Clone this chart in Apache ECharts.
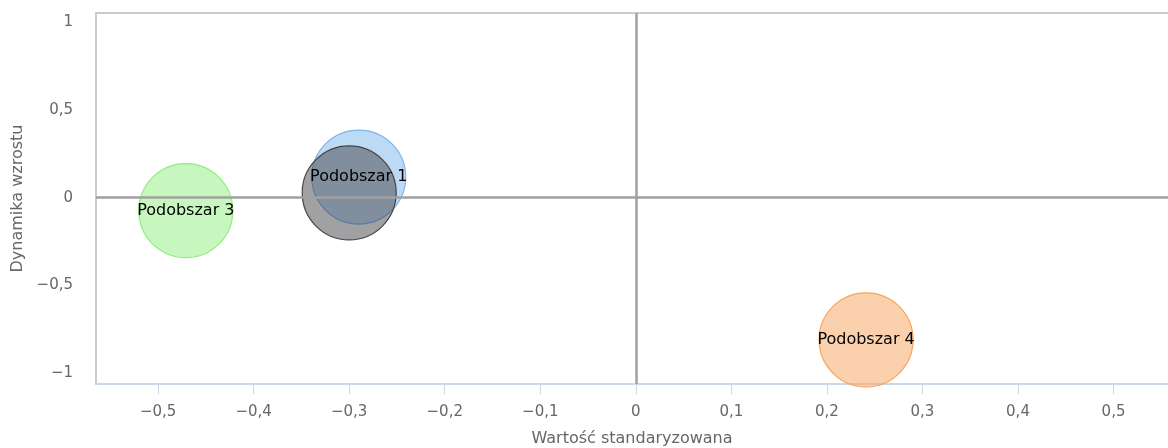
<!DOCTYPE html>
<html>
<head>
<meta charset="utf-8">
<script src="https://cdn.jsdelivr.net/npm/echarts@6/dist/echarts.min.js"></script>
<style>html,body{margin:0;padding:0;background:#fff}#c{width:1168px;height:448px}</style>
</head>
<body>
<div id="c"></div>
<script>
// ---- data ----
const bubbleNames = ['Podobszar 3', 'Podobszar 1', 'Podobszar 4', 'Obszar'];
const xValues = [-0.471, -0.290, 0.241, -0.300];
const yValues = [-0.074, 0.117, -0.809, 0.027];
const sizeValues = [1, 1, 1, 1];
const showLabel = [true, true, true, false];
const xTicks = [-0.5, -0.4, -0.3, -0.2, -0.1, 0, 0.1, 0.2, 0.3, 0.4, 0.5];
const yTicks = [-1, -0.5, 0, 0.5, 1];
const colors = ['#90ed7d', '#7cb5ec', '#f7a35c', '#434348'];

function fmt(v) {
  let s = String(Math.round(v * 100) / 100).replace('.', ',');
  return s.replace('-', '\u2212');
}
function hexA(hex, a) {
  const n = parseInt(hex.slice(1), 16);
  return 'rgba(' + (n >> 16 & 255) + ',' + (n >> 8 & 255) + ',' + (n & 255) + ',' + a + ')';
}

const font = 'DejaVu Sans';
const series = bubbleNames.map((name, i) => ({
  type: 'scatter',
  name: name,
  z: 3,
  symbolSize: 94 * sizeValues[i],
  data: [[xValues[i], yValues[i], sizeValues[i]]],
  itemStyle: { color: hexA(colors[i], 0.5), borderColor: colors[i], borderWidth: 1.2, opacity: 1 },
  label: { show: showLabel[i], position: 'inside', color: '#000', fontFamily: font, fontSize: 16, formatter: name },
  emphasis: { disabled: true }
}));
series.unshift({
  type: 'scatter', z: 1, data: [], silent: true,
  markLine: {
    silent: true, symbol: 'none', animation: false, label: { show: false },
    lineStyle: { color: '#a0a0a0', width: 2.5, type: 'solid' },
    data: [{ xAxis: 0 }, { yAxis: 0 }]
  }
});

const chart = echarts.init(document.getElementById('c'));
chart.setOption({
  animation: false,
  grid: { left: 96, right: 0, top: 13, bottom: 64, containLabel: false, outerBoundsMode: 'none' },
  xAxis: [{
    type: 'value', min: -0.565, max: 0.557,
    name: 'Wartość standaryzowana', nameLocation: 'middle', nameGap: 47,
    nameTextStyle: { color: '#666', fontFamily: font, fontSize: 16 },
    axisLine: { show: true, onZero: false, lineStyle: { color: '#ccd6eb', width: 2 } },
    axisTick: { show: true, length: 10, lineStyle: { color: '#ccd6eb', width: 1 }, customValues: xTicks },
    axisLabel: { color: '#666', fontFamily: font, fontSize: 15, margin: 21, customValues: xTicks, formatter: fmt },
    splitLine: { show: false }
  }, {
    type: 'value', position: 'top', min: -0.565, max: 0.557,
    axisLine: { show: true, onZero: false, lineStyle: { color: '#cccccc', width: 2 } },
    axisTick: { show: false }, axisLabel: { show: false }, splitLine: { show: false }
  }],
  yAxis: {
    type: 'value', min: -1.06, max: 1.05,
    name: 'Dynamika wzrostu', nameLocation: 'middle', nameGap: 62, nameRotate: 90,
    nameTextStyle: { color: '#666', fontFamily: font, fontSize: 16 },
    axisLine: { show: true, onZero: false, lineStyle: { color: '#cccccc', width: 2 } },
    axisTick: { show: false },
    axisLabel: { color: '#666', fontFamily: font, fontSize: 15, margin: 23, customValues: yTicks, formatter: fmt },
    splitLine: { show: false }
  },
  series: series
});
</script>
</body>
</html>
